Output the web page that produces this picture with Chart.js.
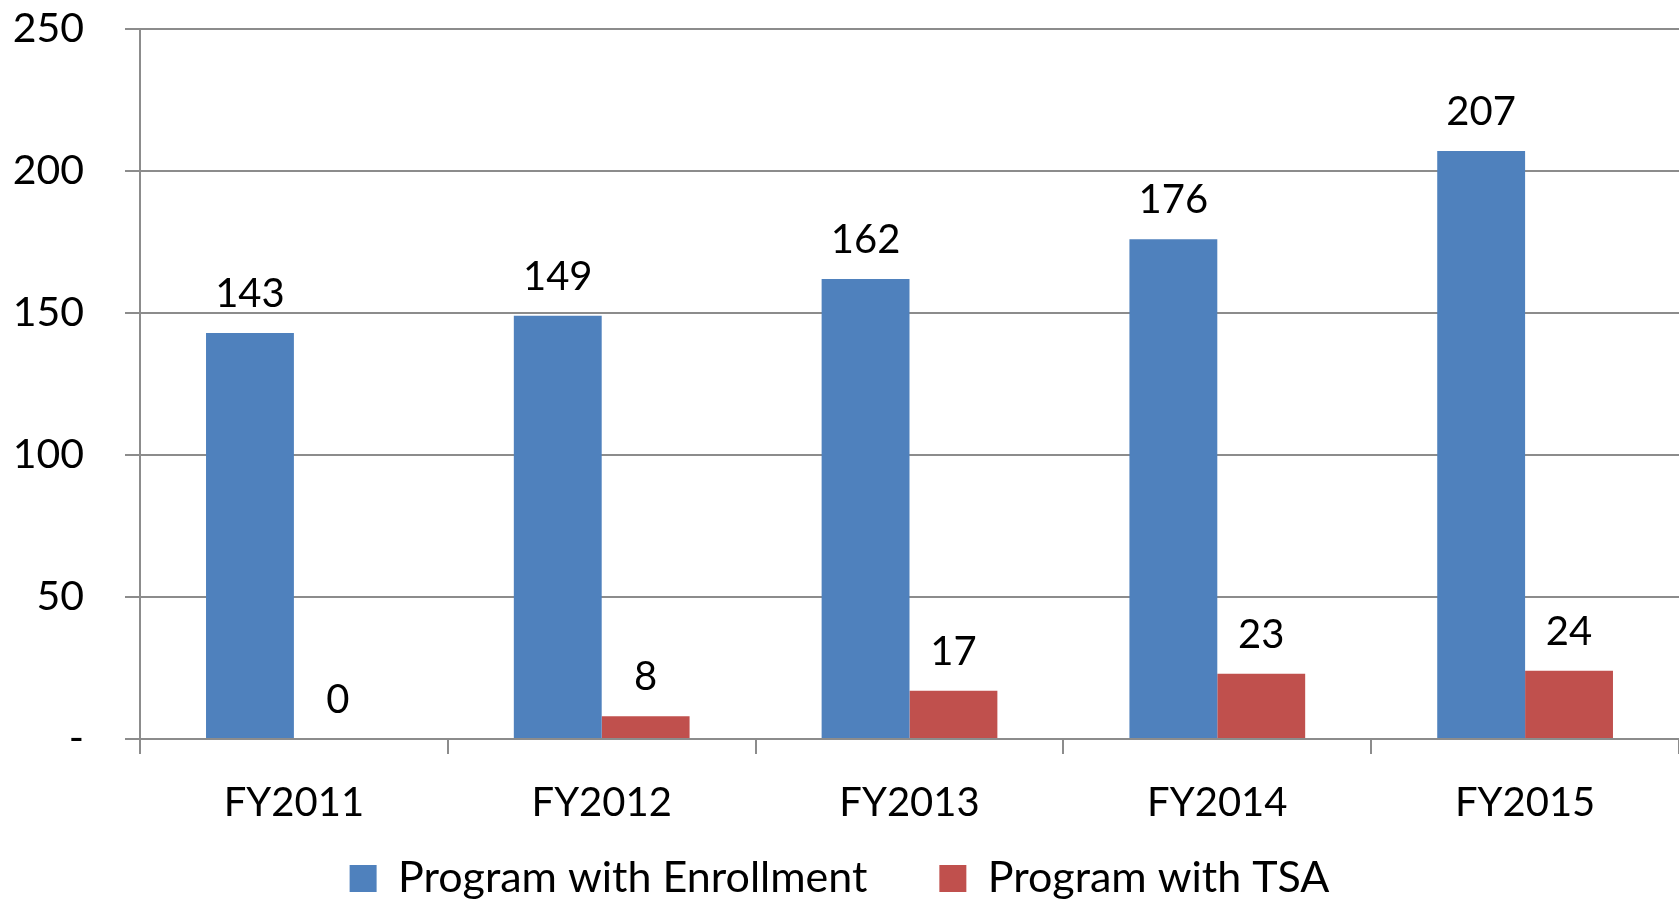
<!DOCTYPE html>
<html>
<head>
<meta charset="utf-8">
<script src="https://cdn.jsdelivr.net/npm/chart.js@4/dist/chart.umd.min.js"></script>
<style>
html,body{margin:0;padding:0;background:#fff;}
#wrap{width:1679px;height:902px;position:relative;}
</style>
</head>
<body>
<div id="wrap"><canvas id="c"></canvas></div>
<script>
const categories = ['FY2011', 'FY2012', 'FY2013', 'FY2014', 'FY2015'];
const enrollment = [143, 149, 162, 176, 207];
const tsa = [0, 8, 17, 23, 24];
const seriesNames = ['Program with Enrollment', 'Program with TSA'];
const yTickLabels = ['-', '50', '100', '150', '200', '250'];

const FONT = 'Lato, "Open Sans", sans-serif';
const GRID = '#8c8c8c';

const dataLabels = {
  id: 'dataLabels',
  afterDatasetsDraw(chart) {
    const ctx = chart.ctx;
    ctx.save();
    ctx.font = '40px ' + FONT;
    ctx.fillStyle = '#000';
    ctx.textAlign = 'center';
    ctx.textBaseline = 'alphabetic';
    chart.data.datasets.forEach((ds, i) => {
      const meta = chart.getDatasetMeta(i);
      meta.data.forEach((el, j) => {
        ctx.fillText(String(ds.data[j]), el.x, el.y - 26);
      });
    });
    ctx.restore();
  }
};

// move the legend block up so its row sits where the reference has it
const legendShift = {
  id: 'legendShift',
  afterLayout(chart) {
    const lg = chart.legend;
    if (!lg) return;
    lg.top = chart.chartArea.bottom + 46;
    lg.bottom = chart.height;
    lg.height = lg.bottom - lg.top;
  }
};

new Chart(document.getElementById('c'), {
  type: 'bar',
  data: {
    labels: categories,
    datasets: [
      { label: seriesNames[0], data: enrollment, backgroundColor: '#4F81BD', categoryPercentage: 0.571, barPercentage: 1.0 },
      { label: seriesNames[1], data: tsa, backgroundColor: '#C0504D', categoryPercentage: 0.571, barPercentage: 1.0 }
    ]
  },
  options: {
    responsive: true,
    maintainAspectRatio: false,
    animation: false,
    layout: { padding: { top: 29, right: 0, bottom: 0, left: 0 } },
    plugins: {
      tooltip: { enabled: false },
      legend: {
        position: 'bottom',
        maxHeight: 63,
        labels: {
          font: { family: FONT, size: 43 },
          color: '#000',
          boxWidth: 27,
          boxHeight: 27,
          padding: 72
        }
      }
    },
    scales: {
      x: {
        grid: { display: true, drawOnChartArea: false, drawTicks: true, tickLength: 15, color: GRID, lineWidth: 2, offset: true },
        border: { display: true, color: GRID, width: 2 },
        ticks: { font: { family: FONT, size: 40 }, color: '#000', padding: 25, maxRotation: 0 },
        afterFit(scale) { scale.height = 100; scale.paddingLeft = 0; scale.paddingRight = 0; }
      },
      y: {
        min: 0, max: 250,
        grid: { color: GRID, lineWidth: 2, drawTicks: true, tickLength: 15 },
        border: { display: true, color: GRID, width: 2 },
        ticks: {
          stepSize: 50,
          font: { family: FONT, size: 41 },
          color: '#000',
          padding: 41,
          callback: (v, i) => yTickLabels[i]
        },
        afterFit(scale) { scale.width = 140; scale.paddingTop = 0; scale.paddingBottom = 0; }
      }
    }
  },
  plugins: [dataLabels, legendShift]
});
</script>
</body>
</html>
